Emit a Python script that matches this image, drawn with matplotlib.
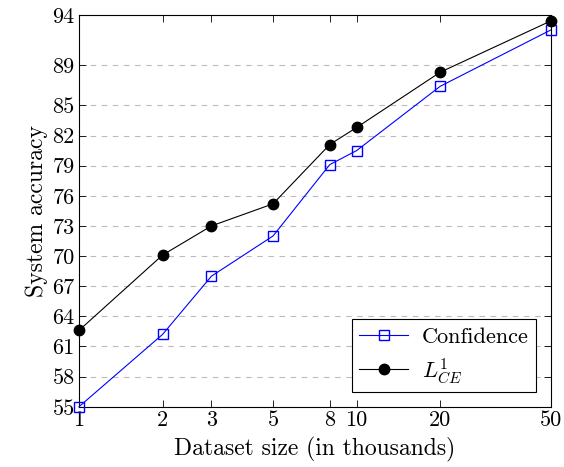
import matplotlib
matplotlib.use("Agg")
import matplotlib.pyplot as plt
from matplotlib.ticker import FixedLocator, NullLocator

plt.rcParams['font.family'] = 'cmr10'
plt.rcParams['mathtext.fontset'] = 'cm'
plt.rcParams['axes.formatter.use_mathtext'] = True

sizes = [1, 2, 3, 5, 8, 10, 20, 50]
confidence = [55.0, 62.2, 68.0, 72.0, 79.1, 80.5, 86.9, 92.5]
l_ce = [62.6, 70.1, 73.0, 75.2, 81.1, 82.8, 88.3, 93.4]
y_ticks = [55, 58, 61, 64, 67, 70, 73, 76, 79, 82, 85, 89, 94]

fig = plt.figure(figsize=(5.64, 4.67), dpi=100)
ax = fig.add_axes([0.140, 0.129, 0.8365, 0.839])

ax.plot(sizes, confidence, color='blue', lw=0.8, marker='s', markersize=6.5,
        markerfacecolor='none', markeredgecolor='blue', markeredgewidth=1.0,
        label='Confidence', clip_on=False, zorder=3)
ax.plot(sizes, l_ce, color='black', lw=0.8, marker='o', markersize=7.5,
        label=r'$L^1_{CE}$', clip_on=False, zorder=3)

ax.set_xscale('log')
ax.set_xlim(1, 50)
ax.set_ylim(55, 94)
ax.xaxis.set_major_locator(FixedLocator(sizes))
ax.xaxis.set_minor_locator(NullLocator())
ax.set_xticks(sizes)
ax.set_xticklabels([str(s) for s in sizes])
ax.set_yticks(y_ticks)
ax.set_yticklabels([str(t) for t in y_ticks])

ax.tick_params(direction='in', top=True, right=True, length=5, width=0.6,
               labelsize=16, pad=3)
ax.grid(axis='y', linestyle=(0, (5, 5)), color='#bbbbbb', lw=0.8)
for s in ax.spines.values():
    s.set_linewidth(0.8)

ax.set_xlabel('Dataset size (in thousands)', fontsize=17, labelpad=5)
ax.set_ylabel('System accuracy', fontsize=17, labelpad=3)

leg = ax.legend(loc='lower right', fontsize=16, fancybox=False, framealpha=1,
                edgecolor='black', borderaxespad=0.65, handlelength=2.2,
                borderpad=0.35, labelspacing=0.4, handletextpad=0.6)
leg.get_frame().set_linewidth(0.8)

fig.savefig('out.png', dpi=100)
